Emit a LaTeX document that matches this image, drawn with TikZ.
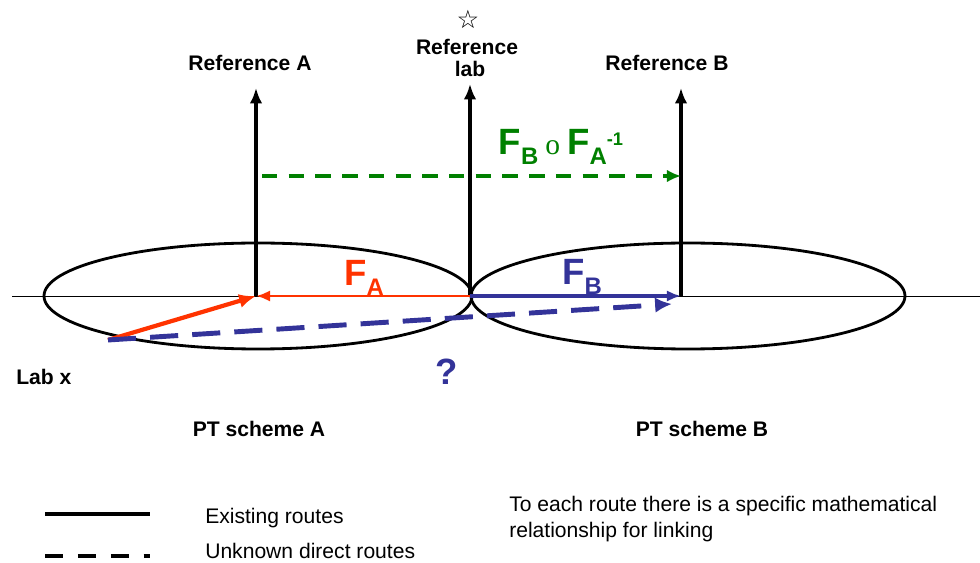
\documentclass[tikz,border=0pt]{standalone}
\usepackage{fontspec}
\setmainfont{Liberation Sans}
\newfontfamily\starfont{DejaVu Sans}
\newfontfamily\serfont{Liberation Serif}
\usetikzlibrary{arrows.meta}
\definecolor{fared}{HTML}{FF3300}
\definecolor{fbblue}{HTML}{333399}
\definecolor{compgreen}{HTML}{008000}
\newcommand{\lowtxt}[1]{\raisebox{-6.5pt}{\fontsize{17}{17}\selectfont #1}}
\newcommand{\hightxt}[1]{\raisebox{7pt}{\fontsize{13}{13}\selectfont #1}}

\begin{document}
\begin{tikzpicture}[x=0.025cm, y=-0.025cm,
    every node/.style={font=\fontsize{15}{18.4}\selectfont, inner sep=0pt},
    lbl/.style={font=\bfseries\fontsize{15}{18}\selectfont},
    bigf/.style={font=\bfseries\fontsize{26}{30}\selectfont},
    frame/.style={line width=2.8pt, -{Latex[length=11pt,width=9pt]}},
    scheme/.style={line width=2pt},
    unknown/.style={dash pattern=on 20pt off 10pt, line width=3.5pt, color=fbblue}]
    \useasboundingbox (0,0) rectangle (980,563);

    % PT schemes
    \draw[scheme] (258,296) ellipse [x radius=214, y radius=53];
    \draw[scheme] (688,296) ellipse [x radius=217, y radius=53];
    \draw[line width=0.7pt] (12,296) -- (980,296);

    \coordinate (oA) at (256,296);
    \coordinate (oL) at (470,296);
    \coordinate (oB) at (681,296);
    \coordinate (tA) at (256,88);
    \coordinate (tL) at (470,84);
    \coordinate (tB) at (681,88);
    \coordinate (labx) at (108,340);
    \coordinate (dashend) at (672,304);
    \coordinate (gA) at (262,176);
    \coordinate (gB) at (681,176);

    % reference frames
    \draw[frame] (oA) -- (tA);
    \draw[frame] (oL) -- (tL);
    \draw[frame] (oB) -- (tB);

    \node[lbl, anchor=base] (refA) at (250,71) {Reference A};
    \node[lbl, anchor=base] (refB) at (667,71) {Reference B};
    \node[lbl, anchor=base] (reflab) at (467,55) {Reference};
    \node[lbl, anchor=base] (lab) at (470,77) {lab};
    \node[font=\starfont\bfseries\fontsize{18}{18}\selectfont] (star) at (468,19) {☆};

    % routes
    \draw[compgreen, line width=3pt, dash pattern=on 11pt off 8pt,
        -{Latex[length=10pt,width=9pt]}] (gA) -- (gB);
    \node[bigf, text=compgreen, anchor=base] (fbfa) at (561,155)
        {F\lowtxt{B}\hspace{5pt}{\serfont\mdseries\fontsize{21}{21}\selectfont o}\hspace{5pt}F\lowtxt{A}\hightxt{-1}};

    \draw[fared, line width=2pt, -{Latex[length=10pt,width=8pt]}] (oL) -- (oA);
    \draw[fared, line width=3pt, -{Latex[length=12pt,width=10pt]}] (labx) -- (oA);
    \draw[fbblue, line width=2.2pt, -{Latex[length=10pt,width=8pt]}] (oL) -- (oB);
    \draw[unknown, -{Latex[length=12pt,width=11pt]}] (labx) -- (dashend);

    \node[bigf, text=fared, anchor=base] (fa) at (364,286) {F\lowtxt{A}};
    \node[bigf, text=fbblue, anchor=base] (fb) at (582,285) {F\lowtxt{B}};
    \node[bigf, text=fbblue] (quest) at (447,372) {?};

    \node[lbl, anchor=base west] (labxt) at (16,385) {Lab x};
    \node[lbl, anchor=base] (ptA) at (259,437) {PT scheme A};
    \node[lbl, anchor=base] (ptB) at (702,437) {PT scheme B};

    % legend
    \coordinate (l1a) at (45,514);
    \coordinate (l1b) at (150,514);
    \coordinate (l2a) at (45,556);
    \coordinate (l2b) at (150,556);
    \draw[line width=3.5pt] (l1a) -- (l1b);
    \draw[line width=3.5pt, dash pattern=on 12.8pt off 10.6pt] (l2a) -- (l2b);
    \node[anchor=base west] (exist) at (205,523) {Existing routes};
    \node[anchor=base west] (unkn) at (205,558) {Unknown direct routes};
    \node[anchor=north west, align=left] (note) at (509,496)
        {To each route there is a specific mathematical\\relationship for linking};
\end{tikzpicture}
\end{document}
